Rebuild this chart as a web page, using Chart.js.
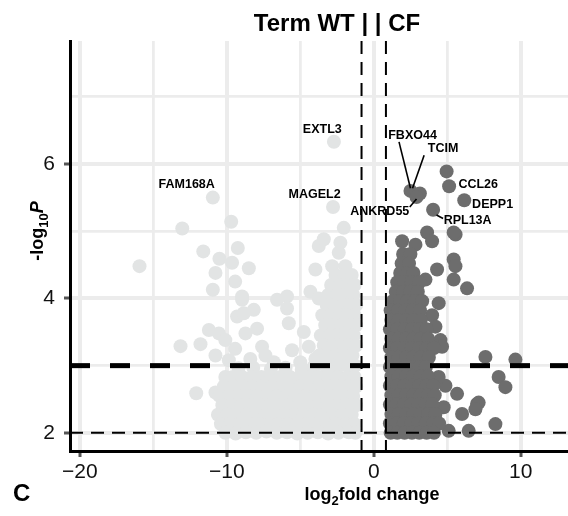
<!DOCTYPE html>
<html>
<head>
<meta charset="utf-8">
<script src="https://cdn.jsdelivr.net/npm/chart.js@4"></script>
<style>
  html, body { margin: 0; padding: 0; background: #fff; }
  canvas { display: block; }
</style>
</head>
<body>
<canvas id="volcano" width="568" height="516"></canvas>
<script>
// WT side (log2FC < cutoff), light grey
const wtPoints = [
  [-2.71,6.33],[-2.77,5.36],[-10.95,5.50],[-2.04,5.05],
  [-15.94,4.48],[-13.03,5.04],[-9.70,5.14],[-11.60,4.70],[-9.25,4.75],[-10.50,4.59],[-9.64,4.53],
  [-10.77,4.38],[-9.43,4.25],[-10.95,4.13],[-8.96,3.98],[-9.30,3.73],[-11.22,3.53],[-10.54,3.48],
  [-13.15,3.29],[-11.79,3.32],[-10.10,3.38],[-9.43,3.25],[-10.77,3.15],[-9.86,3.08],[-12.08,2.59],
  [-10.77,2.60],[-10.10,2.83],
  [-8.50,4.45],[-3.74,4.78],[-3.40,4.88],[-2.27,4.83],[-2.38,4.68],[-3.97,4.43],[-2.83,4.48],
  [-1.93,4.48],[-1.70,4.18],[-4.31,4.10],[-3.74,4.00],[-6.58,3.98],[-5.90,4.03],[-5.90,3.85],
  [-8.96,4.03],[-8.16,3.83],[-8.84,3.78],[-5.78,3.63],[-4.76,3.50],[-7.94,3.55],[-8.73,3.48],
  [-7.60,3.28],[-5.56,3.23],[-4.42,3.28],[-7.37,3.15],[-3.97,3.10],[-8.40,3.10],[-6.80,3.05],[-5.00,3.05],
  // right edge column
  [-2.60,4.35],[-2.00,4.35],[-1.50,4.35],
  [-2.90,4.20],[-2.30,4.20],[-1.80,4.20],[-1.30,4.20],
  [-3.10,4.05],[-2.50,4.05],[-1.95,4.05],[-1.40,4.05],
  [-3.20,3.90],[-2.70,3.90],[-2.10,3.90],[-1.60,3.90],[-1.20,3.90],
  [-3.50,3.75],[-2.90,3.75],[-2.30,3.75],[-1.80,3.75],[-1.30,3.75],
  [-3.30,3.60],[-2.70,3.60],[-2.20,3.60],[-1.60,3.60],[-1.20,3.60],
  [-3.60,3.45],[-3.00,3.45],[-2.50,3.45],[-1.90,3.45],[-1.35,3.45],
  [-3.40,3.30],[-2.80,3.30],[-2.20,3.30],[-1.70,3.30],[-1.20,3.30],
  [-3.70,3.15],[-3.10,3.15],[-2.60,3.15],[-2.00,3.15],[-1.45,3.15],
  [-3.30,3.00],[-2.80,3.00],[-2.30,3.00],[-1.80,3.00],[-1.25,3.00],
  // main block
  [-9.20,2.96],[-8.20,2.97],[-7.00,2.95],[-6.00,2.97],[-4.90,2.94],[-4.10,2.98],
  [-9.60,2.83],[-8.95,2.83],[-8.30,2.83],[-7.65,2.83],[-7.00,2.83],[-6.35,2.83],[-5.70,2.83],
  [-5.05,2.83],[-4.40,2.83],[-3.75,2.83],[-3.10,2.83],[-2.45,2.83],[-1.80,2.83],[-1.30,2.83],
  [-10.20,2.69],[-9.55,2.69],[-8.90,2.69],[-8.25,2.69],[-7.60,2.69],[-6.95,2.69],[-6.30,2.69],
  [-5.65,2.69],[-5.00,2.69],[-4.35,2.69],[-3.70,2.69],[-3.05,2.69],[-2.40,2.69],[-1.75,2.69],[-1.20,2.69],
  [-10.50,2.55],[-9.85,2.55],[-9.20,2.55],[-8.55,2.55],[-7.90,2.55],[-7.25,2.55],[-6.60,2.55],
  [-5.95,2.55],[-5.30,2.55],[-4.65,2.55],[-4.00,2.55],[-3.35,2.55],[-2.70,2.55],[-2.05,2.55],[-1.40,2.55],
  [-10.30,2.41],[-9.65,2.41],[-9.00,2.41],[-8.35,2.41],[-7.70,2.41],[-7.05,2.41],[-6.40,2.41],
  [-5.75,2.41],[-5.10,2.41],[-4.45,2.41],[-3.80,2.41],[-3.15,2.41],[-2.50,2.41],[-1.85,2.41],[-1.20,2.41],
  [-10.60,2.27],[-9.95,2.27],[-9.30,2.27],[-8.65,2.27],[-8.00,2.27],[-7.35,2.27],[-6.70,2.27],
  [-6.05,2.27],[-5.40,2.27],[-4.75,2.27],[-4.10,2.27],[-3.45,2.27],[-2.80,2.27],[-2.15,2.27],[-1.50,2.27],
  [-10.40,2.13],[-9.75,2.13],[-9.10,2.13],[-8.45,2.13],[-7.80,2.13],[-7.15,2.13],[-6.50,2.13],
  [-5.85,2.13],[-5.20,2.13],[-4.55,2.13],[-3.90,2.13],[-3.25,2.13],[-2.60,2.13],[-1.95,2.13],[-1.30,2.13],
  [-10.10,2.00],[-9.40,1.99],[-8.70,2.01],[-8.00,2.00],[-7.30,2.02],[-6.60,2.00],[-5.90,2.01],
  [-5.20,1.99],[-4.50,2.00],[-3.80,2.01],[-3.10,1.99],[-2.40,2.00],[-1.70,2.01],[-1.25,2.00]
];

// CF side (log2FC > cutoff), dark grey
const cfPoints = [
  [2.50,5.60],[3.14,5.56],[2.91,5.51],[5.13,5.67],[4.96,5.89],[6.16,5.46],[4.04,5.32],[5.57,4.95],
  [1.93,4.85],[3.63,4.98],[2.84,4.80],[3.97,4.85],[5.44,4.98],[2.04,4.65],[5.44,4.58],[5.56,4.48],
  [4.31,4.43],[3.52,4.28],[5.44,4.28],[6.35,4.15],[4.42,3.93],[3.97,3.75],[4.20,3.58],[4.54,3.38],
  [4.65,3.28],[4.88,2.70],[5.67,2.58],[6.01,2.28],[7.03,2.43],[5.10,2.03],[6.46,2.03],[7.60,3.13],
  [9.64,3.09],[8.50,2.83],[8.96,2.68],[7.14,2.45],[6.92,2.35],[4.76,2.38],[8.28,2.13],[4.42,2.83],
  [2.00,4.66],[2.50,4.66],
  [1.90,4.52],[2.40,4.52],
  [1.80,4.38],[2.30,4.38],[2.70,4.38],
  [1.60,4.24],[2.10,4.24],[2.60,4.24],[3.10,4.24],
  [1.50,4.10],[2.00,4.10],[2.50,4.10],[3.00,4.10],
  [1.30,3.96],[1.80,3.96],[2.30,3.96],[2.80,3.96],[3.30,3.96],
  [1.15,3.82],[1.65,3.82],[2.15,3.82],[2.65,3.82],[3.15,3.82],
  [1.20,3.68],[1.70,3.68],[2.20,3.68],[2.70,3.68],[3.20,3.68],
  [1.10,3.54],[1.60,3.54],[2.10,3.54],[2.60,3.54],[3.10,3.54],[3.60,3.54],
  [1.20,3.40],[1.70,3.40],[2.20,3.40],[2.70,3.40],[3.20,3.40],[3.70,3.40],
  [1.10,3.26],[1.60,3.26],[2.10,3.26],[2.60,3.26],[3.10,3.26],[3.60,3.26],[4.10,3.26],
  [1.20,3.12],[1.70,3.12],[2.20,3.12],[2.70,3.12],[3.20,3.12],[3.75,3.12],
  [1.10,2.98],[1.60,2.98],[2.10,2.98],[2.60,2.98],[3.10,2.98],[3.55,2.98],
  [1.20,2.84],[1.70,2.84],[2.20,2.84],[2.70,2.84],[3.20,2.84],[3.70,2.84],
  [1.10,2.70],[1.60,2.70],[2.10,2.70],[2.60,2.70],[3.10,2.70],[3.60,2.70],[4.05,2.70],
  [1.20,2.56],[1.70,2.56],[2.20,2.56],[2.70,2.56],[3.20,2.56],[3.70,2.56],[4.15,2.56],
  [1.10,2.42],[1.55,2.42],[2.05,2.42],[2.55,2.42],[3.05,2.42],[3.55,2.42],[4.00,2.42],
  [1.20,2.28],[1.70,2.28],[2.20,2.28],[2.70,2.28],[3.20,2.28],[3.70,2.28],[4.20,2.28],
  [1.10,2.14],[1.55,2.14],[2.05,2.14],[2.55,2.14],[3.05,2.14],[3.55,2.14],[4.05,2.14],[4.45,2.14],
  [1.15,2.00],[1.60,2.00],[2.10,2.00],[2.60,2.00],[3.10,2.00],[3.60,2.00],[4.10,2.00]
];

const geneNames = ['EXTL3', 'MAGEL2', 'FAM168A', 'FBXO44', 'TCIM', 'ANKRD55', 'CCL26', 'DEPP1', 'RPL13A'];
const geneLabelX = [-3.50, -4.02, -12.73, 2.64, 4.72, 0.41, 7.11, 8.09, 6.39];
const geneLabelY = [6.52, 5.55, 5.70, 6.43, 6.23, 5.29, 5.69, 5.39, 5.16];

// connector lines (label end -> point)
const segFrom = [[1.72, 6.33], [3.43, 6.13], [2.45, 5.36], [4.27, 5.24]];
const segTo = [[2.50, 5.64], [2.64, 5.64], [2.91, 5.48], [4.72, 5.19]];

const fcCutoffs = [-0.83, 0.83];
const pCutoff = 3;
const pCutoffLow = 2;

const FONT = "'Liberation Sans', Arial, Helvetica, sans-serif";

function drawParts(ctx, parts, cx, baseline) {
  let total = 0;
  parts.forEach(p => { ctx.font = p.font; p.w = ctx.measureText(p.t).width; total += p.w; });
  let x = cx - total / 2;
  ctx.textAlign = 'left';
  ctx.textBaseline = 'alphabetic';
  parts.forEach(p => { ctx.font = p.font; ctx.fillText(p.t, x, baseline + (p.dy || 0)); x += p.w; });
}

const decor = {
  id: 'decor',
  afterDatasetsDraw(chart) {
    const ctx = chart.ctx;
    const xs = chart.scales.x, ys = chart.scales.y, a = chart.chartArea;
    ctx.save();
    ctx.beginPath();
    ctx.rect(a.left, a.top, a.right - a.left, a.bottom - a.top);
    ctx.clip();
    ctx.strokeStyle = '#000';

    ctx.lineWidth = 2;
    ctx.setLineDash([13, 8]);
    fcCutoffs.forEach(v => {
      const px = xs.getPixelForValue(v);
      ctx.beginPath(); ctx.moveTo(px, a.top); ctx.lineTo(px, a.bottom); ctx.stroke();
    });
    let py = ys.getPixelForValue(pCutoffLow);
    ctx.beginPath(); ctx.moveTo(a.left, py); ctx.lineTo(a.right, py); ctx.stroke();

    ctx.lineWidth = 5;
    ctx.setLineDash([20, 20]);
    py = ys.getPixelForValue(pCutoff);
    ctx.beginPath(); ctx.moveTo(a.left, py); ctx.lineTo(a.right, py); ctx.stroke();

    ctx.setLineDash([]);
    ctx.lineWidth = 1.6;
    segFrom.forEach((f, i) => {
      const t = segTo[i];
      ctx.beginPath();
      ctx.moveTo(xs.getPixelForValue(f[0]), ys.getPixelForValue(f[1]));
      ctx.lineTo(xs.getPixelForValue(t[0]), ys.getPixelForValue(t[1]));
      ctx.stroke();
    });

    ctx.fillStyle = '#000';
    ctx.font = 'bold 12.5px ' + FONT;
    ctx.textAlign = 'center';
    ctx.textBaseline = 'middle';
    geneNames.forEach((g, i) => {
      ctx.fillText(g, xs.getPixelForValue(geneLabelX[i]), ys.getPixelForValue(geneLabelY[i]));
    });
    ctx.restore();
  },
  afterDraw(chart) {
    const ctx = chart.ctx;
    ctx.save();
    ctx.fillStyle = '#000';
    ctx.font = 'bold 24px ' + FONT;
    ctx.textAlign = 'center';
    ctx.textBaseline = 'alphabetic';
    ctx.fillText('Term WT | | CF', 337, 31);

    drawParts(ctx, [
      { t: 'log', font: 'bold 18px ' + FONT },
      { t: '2', font: 'bold 13px ' + FONT, dy: 5 },
      { t: 'fold change', font: 'bold 18px ' + FONT }
    ], 372, 500);

    ctx.translate(43, 231);
    ctx.rotate(-Math.PI / 2);
    drawParts(ctx, [
      { t: '-log', font: 'bold 18px ' + FONT },
      { t: '10', font: 'bold 13px ' + FONT, dy: 5 },
      { t: 'P', font: 'italic bold 18px ' + FONT }
    ], 0, 0);
    ctx.restore();

    ctx.save();
    ctx.fillStyle = '#000';
    ctx.font = 'bold 24px ' + FONT;
    ctx.textAlign = 'left';
    ctx.fillText('C', 13, 501);
    ctx.restore();
  }
};

const toXY = arr => arr.map(p => ({ x: p[0], y: p[1] }));
const major = (v, step) => Math.abs(v % step) < 1e-6;

new Chart(document.getElementById('volcano'), {
  type: 'scatter',
  data: {
    datasets: [
      { label: 'WT', data: toXY(wtPoints), backgroundColor: '#e2e4e4', borderColor: '#e2e4e4', borderWidth: 0, pointRadius: 7, pointHoverRadius: 7 },
      { label: 'CF', data: toXY(cfPoints), backgroundColor: '#6d6d6d', borderColor: '#6d6d6d', borderWidth: 0, pointRadius: 7, pointHoverRadius: 7 }
    ]
  },
  options: {
    responsive: false,
    animation: false,
    devicePixelRatio: 1,
    layout: { autoPadding: false, padding: { top: 41, left: 0, right: 0, bottom: 0 } },
    plugins: { legend: { display: false }, title: { display: false }, tooltip: { enabled: false } },
    scales: {
      x: {
        type: 'linear',
        min: -20.67,
        max: 13.22,
        afterFit: s => { s.height = 65; },
        border: { display: true, color: '#000', width: 3 },
        grid: {
          color: '#ececec',
          lineWidth: c => major(c.tick.value, 10) ? 4 : 2.8,
          tickLength: 6,
          tickWidth: 3,
          tickColor: c => major(c.tick.value, 10) ? '#555' : 'rgba(0,0,0,0)'
        },
        ticks: {
          stepSize: 5,
          includeBounds: false,
          autoSkip: false,
          maxRotation: 0,
          padding: 3,
          color: '#111',
          font: { family: FONT, size: 21 },
          callback: v => major(v, 10) ? String(v).replace('-', '\u2212') : ''
        }
      },
      y: {
        type: 'linear',
        min: 1.73,
        max: 7.83,
        afterFit: s => { s.width = 70; },
        border: { display: true, color: '#000', width: 3 },
        grid: {
          color: '#ececec',
          lineWidth: c => major(c.tick.value, 2) ? 4 : 2.8,
          tickLength: 6,
          tickWidth: 3,
          tickColor: c => major(c.tick.value, 2) ? '#555' : 'rgba(0,0,0,0)'
        },
        ticks: {
          stepSize: 1,
          includeBounds: false,
          autoSkip: false,
          padding: 9,
          color: '#111',
          font: { family: FONT, size: 21 },
          callback: v => major(v, 2) ? String(v) : ''
        }
      }
    }
  },
  plugins: [decor]
});
</script>
</body>
</html>
